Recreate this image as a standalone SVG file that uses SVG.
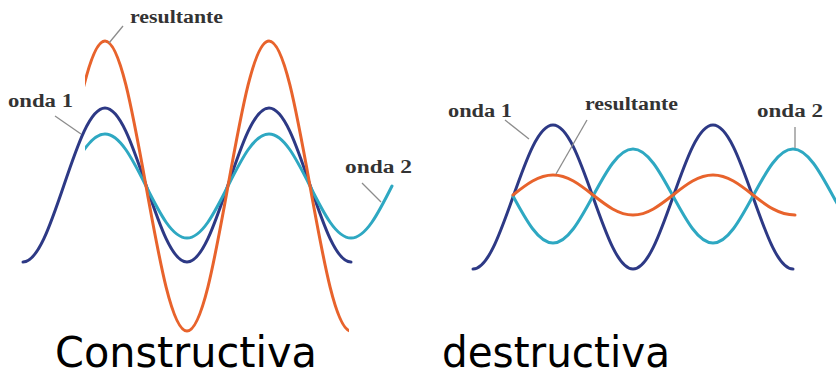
<svg xmlns="http://www.w3.org/2000/svg" width="836" height="377" viewBox="0 0 836 377">
<style>
.w{fill:none;stroke-width:3;stroke-linecap:round;stroke-linejoin:round}
.b{stroke:#2d3985}
.c{stroke:#2ea8c2}
.o{stroke:#e8632c}
.l{stroke:#8c8c8c;stroke-width:1.3;fill:none}
.t{font-family:"Liberation Serif","Times New Roman",serif;font-weight:bold;font-size:18px;fill:#333}
.cap{font-family:"DejaVu Sans",Verdana,sans-serif;font-size:42px;fill:#000}
</style>
<defs>
<clipPath id="cl1"><rect x="85" y="0" width="264" height="377"/></clipPath>
<clipPath id="cl2"><rect x="85" y="0" width="320" height="377"/></clipPath>
</defs>
<rect width="836" height="377" fill="#fff"/>
<g id="constructiva">
<path class="w b" d="M23,262 C37.76,262 50.29,225.43 64,185 S90.24,108 105,108 S132.29,144.57 146,185 S172.24,262 187,262 S214.29,225.43 228,185 S254.24,108 269,108 S296.29,144.57 310,185 S336.24,262 351,262"/>
<path class="w c" clip-path="url(#cl2)" d="M64,186 C77.71,158.69 90.24,134 105,134 S132.29,158.69 146,186 S172.24,238 187,238 S214.29,213.31 228,186 S254.24,134 269,134 S296.29,158.69 310,186 S336.24,238 351,238 S378.29,213.31 392,186"/>
<path class="w o" clip-path="url(#cl1)" d="M64,186 C77.71,109.86 90.24,41 105,41 S132.29,109.86 146,186 S172.24,331 187,331 S214.29,262.14 228,186 S254.24,41 269,41 S296.29,109.86 310,186 S336.24,331 351,331"/>
<g id="leaders-left">
<line class="l" x1="123" y1="26" x2="109" y2="43"/>
<line class="l" x1="55" y1="116" x2="81" y2="134"/>
<line class="l" x1="362" y1="183" x2="381" y2="202"/>
</g>
<text class="t" x="130" y="23" textLength="93" lengthAdjust="spacingAndGlyphs">resultante</text>
<text class="t" x="8" y="107" textLength="65" lengthAdjust="spacingAndGlyphs">onda 1</text>
<text class="t" x="345" y="173" textLength="67" lengthAdjust="spacingAndGlyphs">onda 2</text>
</g>
<g id="destructiva">
<path class="w b" d="M473,269 C487.4,269 499.63,234.81 513,197 S538.6,125 553,125 S579.63,159.19 593,197 S618.6,269 633,269 S659.63,234.81 673,197 S698.6,125 713,125 S739.63,159.19 753,197 S778.6,269 793,269"/>
<path class="w c" d="M513,196 C526.37,220.68 538.6,243 553,243 S579.63,220.68 593,196 S618.6,149 633,149 S659.63,171.32 673,196 S698.6,243 713,243 S739.63,220.68 753,196 S778.6,149 793,149 S819.63,171.32 833,196 S858.6,243 873,243"/>
<path class="w o" d="M513,195 C526.37,184.5 538.6,175 553,175 S579.63,184.5 593,195 S618.6,215 633,215 S659.63,205.5 673,195 S698.6,175 713,175 S739.63,184.5 753,195 S778.6,215 795,215"/>
<g id="leaders-right">
<line class="l" x1="505" y1="120" x2="529" y2="139"/>
<line class="l" x1="587" y1="120" x2="556" y2="174"/>
<line class="l" x1="795" y1="127" x2="795" y2="148"/>
</g>
<text class="t" x="448" y="117" textLength="64" lengthAdjust="spacingAndGlyphs">onda 1</text>
<text class="t" x="585" y="110" textLength="93" lengthAdjust="spacingAndGlyphs">resultante</text>
<text class="t" x="757" y="117" textLength="66" lengthAdjust="spacingAndGlyphs">onda 2</text>
</g>
<g id="captions">
<text class="cap" x="55" y="366.5" textLength="262" lengthAdjust="spacingAndGlyphs">Constructiva</text>
<text class="cap" x="442" y="366.5" textLength="228" lengthAdjust="spacingAndGlyphs">destructiva</text>
</g>
</svg>
